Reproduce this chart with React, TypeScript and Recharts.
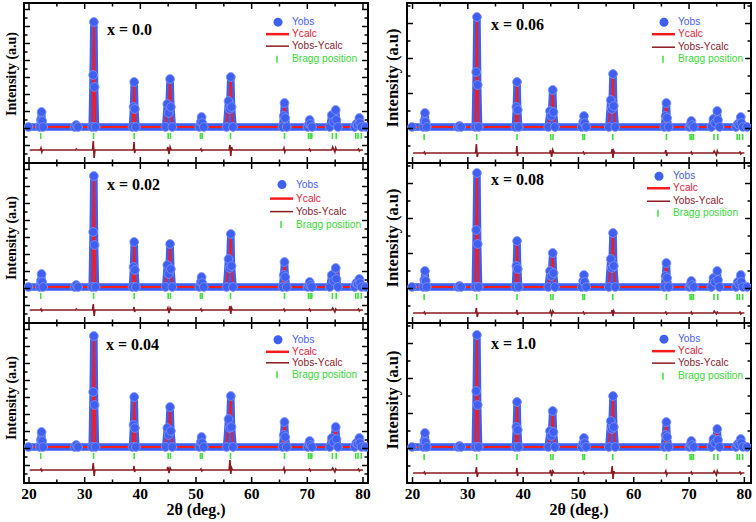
import { ComposedChart, Line, Scatter, XAxis, YAxis, Legend } from 'recharts';

// 2θ positions of the sampled Yobs points (shared by all six patterns)
const theta = [
  19.9,
  21.95, 22.12, 22.25, 22.38, 22.55,
  28.2, 28.5, 28.8,
  31.35, 31.52, 31.65, 31.78, 31.95,
  38.6, 38.78, 38.9, 39.02, 39.2,
  44.55, 44.85, 45.1, 45.35, 45.48, 45.75,
  50.6, 50.85, 51.0, 51.13, 51.4,
  55.5, 55.85, 56.05, 56.25, 56.38, 56.65,
  65.55, 65.75, 65.9, 66.03, 66.3,
  70.05, 70.28, 70.42, 70.58, 70.85,
  74.05, 74.4, 74.7, 75.1, 75.23, 75.5,
  78.5, 78.8, 79.05, 79.35, 79.48, 79.75,
  80.5,
];

// intensity above background (a.u.) for each composition
const obsX00 = [0, 0, 7, 15, 6, 0, 0, 2, 0, 0, 52, 105, 40, 0, 0, 20, 45, 18, 0, 0, 23, 14, 48, 20, 0, 0, 5, 10, 4, 0, 0, 26, 18, 50, 20, 0, 0, 11, 24, 9, 0, 0, 3, 7, 3, 0, 0, 12, 5, 17, 7, 0, 0, 3, 2, 9, 4, 0, 0];
const obsX02 = [0, 0, 6, 13, 5, 0, 0, 2, 0, 0, 55, 111, 42, 0, 0, 20, 45, 17, 0, 0, 22, 13, 43, 18, 0, 0, 5, 10, 4, 0, 0, 28, 19, 53, 21, 0, 0, 12, 25, 10, 0, 0, 2, 5, 2, 0, 0, 12, 6, 19, 8, 0, 0, 4, 3, 8, 4, 0, 0];
const obsX04 = [0, 0, 7, 15, 6, 0, 0, 2, 0, 0, 55, 111, 42, 0, 0, 22, 50, 19, 0, 0, 19, 12, 40, 16, 0, 0, 5, 10, 4, 0, 0, 28, 19, 51, 20, 0, 0, 12, 25, 10, 0, 0, 3, 6, 2, 0, 0, 9, 5, 20, 8, 0, 0, 4, 3, 9, 4, 0, 0];
const obsX06 = [0, 0, 6, 14, 5, 0, 0, 1, 0, 0, 55, 110, 42, 0, 0, 20, 45, 17, 0, 0, 16, 11, 37, 15, 0, 0, 5, 11, 4, 0, 0, 27, 18, 53, 21, 0, 0, 11, 24, 9, 0, 0, 3, 6, 2, 0, 0, 8, 4, 16, 7, 0, 0, 3, 2, 10, 4, 0, 0];
const obsX08 = [0, 0, 7, 16, 6, 0, 0, 1, 0, 0, 57, 114, 43, 0, 0, 21, 46, 18, 0, 0, 16, 11, 34, 14, 0, 0, 6, 12, 5, 0, 0, 28, 19, 54, 21, 0, 0, 11, 24, 9, 0, 0, 3, 6, 2, 0, 0, 9, 5, 16, 7, 0, 0, 5, 3, 12, 5, 0, 0];
const obsX10 = [0, 0, 6, 14, 5, 0, 0, 1, 0, 0, 56, 112, 42, 0, 0, 20, 45, 17, 0, 0, 16, 11, 36, 15, 0, 0, 4, 9, 4, 0, 0, 26, 18, 51, 20, 0, 0, 12, 25, 10, 0, 0, 3, 6, 2, 0, 0, 8, 4, 18, 7, 0, 0, 3, 2, 8, 4, 0, 0];

// Yobs-Ycalc residual
const diffTheta = [
  20.1,
  22.0, 22.15, 22.3, 22.45,
  28.35, 28.5, 28.65,
  31.4, 31.55, 31.7, 31.85,
  38.75, 38.87, 38.98, 39.1,
  44.8, 44.95, 45.15, 45.35, 45.55,
  50.75, 50.9, 51.05, 51.2,
  55.95, 56.1, 56.25, 56.4, 56.55,
  65.65, 65.8, 65.95, 66.1,
  70.25, 70.4, 70.55, 70.7,
  74.4, 74.55, 74.95, 75.1, 75.25,
  79.05, 79.2, 79.35, 79.5,
  80.0,
];
const diffX00 = [0, 0, 2, -2, 0, 0, 1, 0, 0, 9, -8, 0, 0, 8, -3, 0, 0, 3, -4, 3, 0, 0, 1, -1, 0, 0, 5, -6, 3, 0, 0, 2, -2, 0, 0, 1, -1, 0, 0, 3, -2, 2, 0, 0, 1, -1, 0, 0];
const diffX02 = [0, 0, 1, -1, 0, 0, 1, 0, 0, 6, -6, 0, 0, 3, -2, 0, 0, 2, -3, 2, 0, 0, 1, -1, 0, 0, 4, -4, 2, 0, 0, 1, -1, 0, 0, 1, -1, 0, 0, 2, -2, 1, 0, 0, 1, -1, 0, 0];
const diffX04 = [0, 0, 1, -1, 0, 0, 0, 0, 0, 7, -6, 0, 0, 4, -2, 0, 0, 3, -3, 2, 0, 0, 1, -1, 0, 0, 10, -4, 2, 0, 0, 2, -2, 0, 0, 1, -1, 0, 0, 2, -2, 1, 0, 0, 1, -1, 0, 0];
const diffX06 = [0, 0, 1, -1, 0, 0, 0, 0, 0, 9, -4, 0, 0, 7, -3, 0, 0, 3, -4, 3, 0, 0, 1, -1, 0, 0, 4, -5, 2, 0, 0, 3, -3, 0, 0, 1, -1, 0, 0, 2, -2, 2, 0, 0, 1, -1, 0, 0];
const diffX08 = [0, 0, 1, -1, 0, 0, 0, 0, 0, 5, -4, 0, 0, 3, -2, 0, 0, 2, -2, 2, 0, 0, 1, -1, 0, 0, 3, -3, 2, 0, 0, 1, -1, 0, 0, 1, -1, 0, 0, 2, -1, 1, 0, 0, 1, -1, 0, 0];
const diffX10 = [0, 0, 1, -1, 0, 0, 0, 0, 0, 6, -4, 0, 0, 5, -3, 0, 0, 3, -3, 2, 0, 0, 1, -1, 0, 0, 7, -6, 2, 0, 0, 2, -2, 0, 0, 1, -1, 0, 0, 2, -2, 2, 0, 0, 1, -1, 0, 0];

const braggPos = [22.1, 31.6, 38.9, 45.0, 45.4, 50.8, 51.1, 56.2, 65.9, 70.2, 70.5, 70.8, 74.5, 75.2, 78.7, 79.1, 79.7];

const xMajor = [20, 30, 40, 50, 60, 70, 80];
const xMinor = [25, 35, 45, 55, 65, 75];
const yMajorL = [-18.5, -1.5, 15.5, 32.5, 49.5, 66.5, 83.5, 100.5, 117.5];
const yMinorL = [-27, -10, 7, 24, 41, 58, 75, 92, 109];
const yMajorR = [-1.5, 33.5, 68.5, 103.5];
const yMinorR = [-19, 16, 51, 86, 121];

const C = { obs: '#3f5ff0', calc: '#f41c1c', diff: '#8a1b22', bragg: '#3ee03e' };
const serif = '"Liberation Serif", "Times New Roman", serif';

const legendItems = [
  { name: 'Yobs', kind: 'dot', color: C.obs, text: '#4a5df2' },
  { name: 'Ycalc', kind: 'thick', color: C.calc, text: '#e9213a' },
  { name: 'Yobs-Ycalc', kind: 'thin', color: C.diff, text: '#8c1b2e' },
  { name: 'Bragg position', kind: 'tick', color: C.bragg, text: '#3ad83a' },
];

const panels = [
  { label: 'x = 0.0', obs: obsX00, diff: diffX00, col: 0, row: 0, lg: [292, 22, 12.3], note: [107, 30], ylab: [12, 74] },
  { label: 'x = 0.02', obs: obsX02, diff: diffX02, col: 0, row: 1, lg: [296, 185, 13.2], note: [107, 185], ylab: [12, 238] },
  { label: 'x = 0.04', obs: obsX04, diff: diffX04, col: 0, row: 2, lg: [292, 340, 11.6], note: [106, 345], ylab: [12, 398] },
  { label: 'x = 0.06', obs: obsX06, diff: diffX06, col: 1, row: 0, lg: [678, 22, 12.4], note: [491, 25], ylab: [393, 78] },
  { label: 'x = 0.08', obs: obsX08, diff: diffX08, col: 1, row: 1, lg: [673, 176, 12.5], note: [491, 180], ylab: [393, 238] },
  { label: 'x = 1.0', obs: obsX10, diff: diffX10, col: 1, row: 2, lg: [678, 339, 12.3], note: [491, 344], ylab: [393, 400] },
];

const tickMark = (side: string, majors: number[], labels: boolean) => (p: any) => {
  const { x, y, payload } = p;
  const v = payload.value;
  const major = majors.includes(v);
  const len = major ? 6 : 3.5;
  let d = [x, y, x, y - len];
  if (side === 'top') d = [x, y, x, y + len];
  if (side === 'left') d = [x, y, x + len, y];
  if (side === 'right') d = [x, y, x - len, y];
  return (
    <g>
      <line x1={d[0]} y1={d[1]} x2={d[2]} y2={d[3]} stroke="#000" strokeWidth={1.5} />
      {labels && major && (
        <text x={x} y={y + 16} textAnchor="middle" fontFamily={serif} fontWeight="bold" fontSize={15.5} fill="#000">
          {v}
        </text>
      )}
    </g>
  );
};

const braggShape = (p: any) => (
  <line x1={p.cx} x2={p.cx} y1={p.cy - 3} y2={p.cy + 3} stroke={C.bragg} strokeWidth={1.6} />
);

function LegendBox({ step }: { step: number }) {
  return (
    <div style={{ fontFamily: '"Liberation Sans", Arial, sans-serif', fontSize: 10.2 }}>
      {legendItems.map((it) => (
        <div key={it.name} style={{ display: 'flex', alignItems: 'center', height: step }}>
          <svg width={28} height={step} style={{ display: 'block' }}>
            {it.kind === 'dot' && <circle cx={14} cy={step / 2} r={4.5} fill={it.color} />}
            {it.kind === 'thick' && <line x1={2} x2={25} y1={step / 2} y2={step / 2} stroke={it.color} strokeWidth={2.5} />}
            {it.kind === 'thin' && <line x1={2} x2={25} y1={step / 2} y2={step / 2} stroke={it.color} strokeWidth={1.5} />}
            {it.kind === 'tick' && <line x1={13} x2={13} y1={step / 2 - 3.5} y2={step / 2 + 3.5} stroke={it.color} strokeWidth={1.5} />}
          </svg>
          <span style={{ color: it.text, lineHeight: `${step}px`, whiteSpace: 'nowrap' }}>{it.name}</span>
        </div>
      ))}
    </div>
  );
}

function Panel({ cfg }: { cfg: any }) {
  const left = cfg.col === 0;
  const bottom = cfg.row === 2;
  const boxLeft = left ? 0 : 380;
  const boxW = left ? 372 : 376;
  const plotTop = 3 + cfg.row * 160;
  const boxTop = plotTop - 5;
  const mb = bottom ? 39 : 5;
  // axes take 1px each, so margins are 1px smaller than the gap around the plot
  const margin = { top: 4, bottom: mb - 1, left: left ? 23 : 26, right: left ? 3 : 4 };
  const xDomain = left ? [19.1, 80.9] : [19, 81.2];
  const yDomain = [-36, 124];
  const braggY = left ? -9 : -10;
  const diffY = left ? -23 : -26;
  const yMaj = left ? yMajorL : yMajorR;
  const yTicks = left ? [...yMajorL, ...yMinorL] : [...yMajorR, ...yMinorR];
  const xTicks = [...xMajor, ...xMinor];

  const obsRows = theta.map((t, i) => ({ t, v: cfg.obs[i] }));
  const diffRows = diffTheta.map((t, i) => ({ t, v: diffY + cfg.diff[i] }));
  const braggRows = braggPos.map((t) => ({ t, v: braggY }));
  const frame = { stroke: '#000', strokeWidth: 2, strokeLinecap: 'square' as const };

  return (
    <div style={{ position: 'absolute', left: boxLeft, top: boxTop }}>
      <ComposedChart width={boxW} height={165 + mb} margin={margin}>
        <XAxis xAxisId="b" type="number" dataKey="t" domain={xDomain} allowDataOverflow ticks={xTicks} interval={0}
          height={1} tickSize={0} tickMargin={0} tickLine={false} axisLine={frame} tick={tickMark('bottom', xMajor, bottom)}
          label={bottom ? { value: '2θ (deg.)', position: 'bottom', offset: 20, fill: '#000', fontSize: 16, fontWeight: 'bold', fontFamily: serif } : undefined} />
        <XAxis xAxisId="t" orientation="top" type="number" dataKey="t" domain={xDomain} allowDataOverflow ticks={xTicks} interval={0}
          height={1} tickSize={0} tickMargin={0} tickLine={false} axisLine={frame} tick={tickMark('top', xMajor, false)} />
        <YAxis yAxisId="l" type="number" domain={yDomain} allowDataOverflow ticks={yTicks} interval={0}
          width={1} tickSize={0} tickMargin={0} tickLine={false} axisLine={frame} tick={tickMark('left', yMaj, false)} />
        <YAxis yAxisId="r" orientation="right" type="number" domain={yDomain} allowDataOverflow ticks={yTicks} interval={0}
          width={1} tickSize={0} tickMargin={0} tickLine={false} axisLine={frame} tick={tickMark('right', yMaj, false)} />
        <Line data={obsRows} dataKey="v" name="Yobs" xAxisId="b" yAxisId="l" type="linear" stroke={C.obs} strokeWidth={7.5}
          strokeLinejoin="round" strokeLinecap="round" dot={{ r: 4.4, fill: C.obs, stroke: '#7d93ff', strokeWidth: 0.8 }} isAnimationActive={false} />
        <Line data={obsRows} dataKey="v" name="Ycalc" xAxisId="b" yAxisId="l" type="linear" stroke={C.calc} strokeWidth={2} dot={false} isAnimationActive={false} />
        <Line data={diffRows} dataKey="v" name="Yobs-Ycalc" xAxisId="b" yAxisId="l" type="linear" stroke={C.diff} strokeWidth={1.6} dot={false} isAnimationActive={false} />
        <Scatter data={braggRows} dataKey="v" name="Bragg position" xAxisId="b" yAxisId="l" shape={braggShape} isAnimationActive={false} />
        <Legend verticalAlign="middle" align="center" layout="horizontal" content={() => <LegendBox step={cfg.lg[2]} />}
          wrapperStyle={{ left: cfg.lg[0] - 28 - boxLeft, top: cfg.lg[1] - cfg.lg[2] / 2 - boxTop, width: 'auto', height: 'auto' }} />
      </ComposedChart>
      <div style={{ position: 'absolute', left: cfg.note[0] - boxLeft, top: cfg.note[1] - 9 - boxTop, fontFamily: serif, fontWeight: 'bold', fontSize: 16, lineHeight: '18px', whiteSpace: 'nowrap', color: '#000' }}>
        {cfg.label}
      </div>
      <div style={{ position: 'absolute', left: cfg.ylab[0] - boxLeft, top: cfg.ylab[1] - boxTop, transform: 'translate(-50%, -50%) rotate(-90deg)', fontFamily: serif, fontWeight: 'bold', fontSize: left ? 14 : 16.5, lineHeight: 1, whiteSpace: 'nowrap', color: '#000' }}>
        Intensity (a.u)
      </div>
    </div>
  );
}

export default function App() {
  return (
    <div style={{ position: 'absolute', left: 0, top: 0, width: 756, height: 522, background: '#fff', overflow: 'hidden' }}>
      {panels.map((cfg) => (
        <Panel key={cfg.label} cfg={cfg} />
      ))}
    </div>
  );
}
